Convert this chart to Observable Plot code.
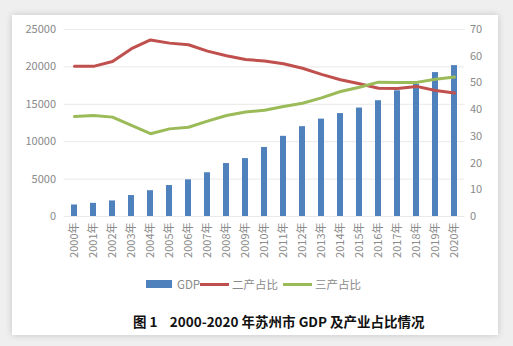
<!DOCTYPE html>
<html>
<head>
<meta charset="utf-8">
<script src="https://cdn.jsdelivr.net/npm/d3@7"></script>
<script src="https://cdn.jsdelivr.net/npm/@observablehq/plot@0.6"></script>
<style>
  html, body { margin: 0; padding: 0; }
  body { width: 513px; height: 346px; background: #efefef; position: relative; overflow: hidden;
         font-family: "Noto Sans CJK SC", "Noto Sans", sans-serif; }
  #card { position: absolute; left: 12px; top: 15px; width: 486px; height: 320px; background: #fff;
          box-shadow: 0 0 7px rgba(0,0,0,0.18); }
  #chart { position: absolute; left: 0; top: 0; }
  .lg { position: absolute; font-size: 11.5px; line-height: 14px; color: #8a8a8a; top: 276.5px; white-space: nowrap; }
  .sw { position: absolute; }
  #caption { position: absolute; left: 133px; top: 312px; font-size: 13.5px; line-height: 18px; font-weight: bold;
             color: #111; white-space: nowrap; font-family: "Noto Sans CJK SC", sans-serif; }
</style>
</head>
<body>
<div id="card"></div>
<div id="chart"></div>
<div class="sw" style="left:146px;top:280px;width:26px;height:8px;background:#4F81BD"></div>
<div class="lg" style="left:177px">GDP</div>
<div class="sw" style="left:200px;top:282.5px;width:29px;height:3px;background:#C0504D"></div>
<div class="lg" style="left:232px">二产占比</div>
<div class="sw" style="left:283px;top:282.5px;width:29px;height:3px;background:#9BBB59"></div>
<div class="lg" style="left:315px">三产占比</div>
<div id="caption">图 1&nbsp;&nbsp;&nbsp;&nbsp;2000-2020 年苏州市 GDP 及产业占比情况</div>
<script>
const years = ["2000年","2001年","2002年","2003年","2004年","2005年","2006年","2007年","2008年","2009年","2010年",
               "2011年","2012年","2013年","2014年","2015年","2016年","2017年","2018年","2019年","2020年"];
const gdp = [1540,1760,2080,2800,3450,4140,4900,5850,7080,7740,9230,10720,12010,13020,13760,14500,15480,16800,17700,19240,20170];
const secondShare = [56.2,56.2,58.0,62.8,66.1,64.9,64.3,61.9,60.2,58.8,58.2,57.2,55.5,53.2,51.2,49.7,48.0,47.9,48.7,47.2,46.2];
const thirdShare = [37.4,37.8,37.2,34.1,31.0,32.8,33.4,35.7,37.8,39.1,39.8,41.2,42.4,44.4,46.8,48.4,50.3,50.2,50.2,51.4,52.2];
const leftTicks = [0,5000,10000,15000,20000,25000];
const rightTicks = [0,10,20,30,40,50,60,70];
const leftMax = 25000, rightMax = 70;
const k = leftMax / rightMax;

const rows = years.map((y, i) => ({year: y, gdp: gdp[i], sec: secondShare[i], ter: thirdShare[i]}));

const chart = Plot.plot({
  width: 513,
  height: 265,
  marginTop: 29,
  marginBottom: 49,
  marginLeft: 63.5,
  marginRight: 48.5,
  style: {background: "transparent", fontFamily: "'Noto Sans CJK SC', sans-serif", fontSize: "11px", color: "#8a8a8a"},
  x: {domain: years, paddingInner: 0.68, paddingOuter: 0.34, axis: null, label: null},
  y: {domain: [0, leftMax], axis: null, label: null},
  marks: [
    Plot.gridY(leftTicks, {stroke: "#e9e9e9", strokeOpacity: 1}),
    Plot.axisY(leftTicks, {anchor: "left", tickSize: 0, tickPadding: 8, label: null, tickFormat: d => String(d)}),
    Plot.axisY(rightTicks.map(v => v * k), {anchor: "right", tickSize: 0, tickPadding: 5, label: null, tickFormat: d => String(Math.round(d / k))}),
    Plot.axisX({tickRotate: -90, tickSize: 0, tickPadding: 6, label: null}),
    Plot.barY(rows, {x: "year", y: "gdp", fill: "#4F81BD"}),
    Plot.line(rows, {x: "year", y: d => d.sec * k, stroke: "#C0504D", strokeWidth: 3, strokeLinejoin: "round", strokeLinecap: "round"}),
    Plot.line(rows, {x: "year", y: d => d.ter * k, stroke: "#9BBB59", strokeWidth: 3, strokeLinejoin: "round", strokeLinecap: "round"})
  ]
});
document.getElementById("chart").appendChild(chart);
</script>
</body>
</html>
